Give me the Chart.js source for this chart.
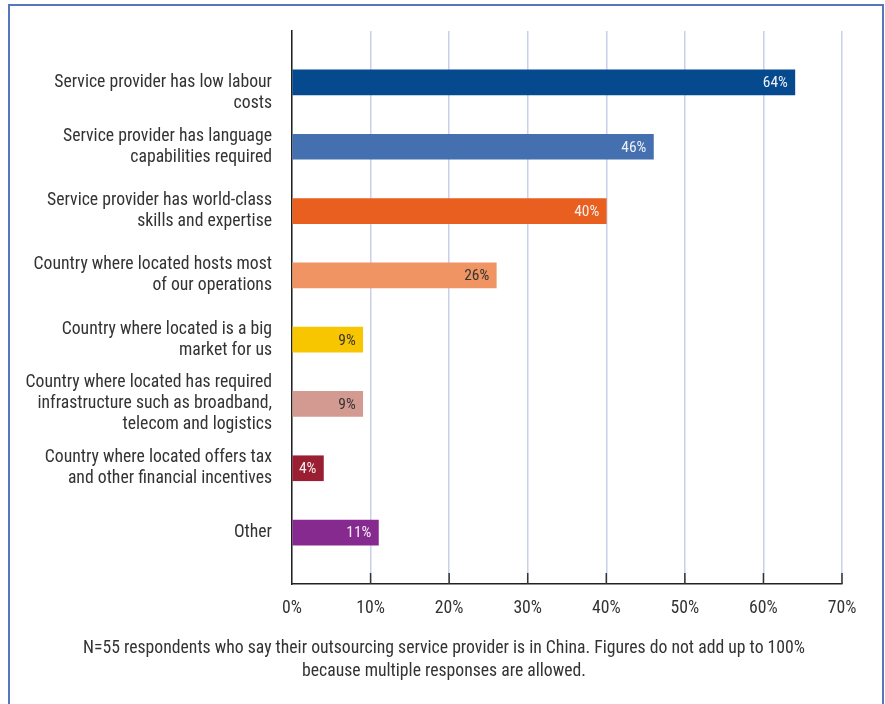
<!DOCTYPE html>
<html><head><meta charset="utf-8">
<script src="https://cdn.jsdelivr.net/npm/chart.js@4/dist/chart.umd.min.js"></script>
<style>
body{margin:0;background:#fff;}
#frame{position:absolute;left:8px;top:4px;width:876px;height:720px;border:2px solid #5677bb;border-bottom:none;box-sizing:border-box;}
#wrap{position:absolute;left:0;top:0;width:885px;height:704px;}
#note{position:absolute;left:0;width:888px;top:636px;text-align:center;font-family:'Liberation Sans Narrow','Roboto Condensed','DejaVu Sans Condensed',sans-serif;font-size:17.7px;color:#333;line-height:23px;}
</style></head>
<body>
<div id="frame"></div>
<div id="wrap"><canvas id="c" width="885" height="704"></canvas></div>
<div id="note">N=55 respondents who say their outsourcing service provider is in China. Figures do not add up to 100%<br>because multiple responses are allowed.</div>
<script>
const categories = [
  ["", "Service provider has low labour", "costs"],
  ["Service provider has language", "capabilities required"],
  ["Service provider has world-class", "skills and expertise"],
  ["Country where located hosts most", "of our operations"],
  ["Country where located is a big", "market for us"],
  ["Country where located has required", "infrastructure such as broadband,", "telecom and logistics"],
  ["Country where located offers tax", "and other financial incentives"],
  ["Other"]
];
const values = [64, 46, 40, 26, 9, 9, 4, 11];
const barColors = ["#05498f", "#4470b0", "#e85f20", "#f19463", "#f7c600", "#d39a92", "#9a1f32", "#862a8f"];
const valueLabelColors = ["#eef0f6", "#eef0f6", "#f6f0ec", "#333333", "#333333", "#333333", "#f6eef0", "#f3eef5"];
const xTicks = [0, 10, 20, 30, 40, 50, 60, 70];

const FONT = "'Liberation Sans Narrow','Roboto Condensed','DejaVu Sans Condensed',sans-serif";

const valueLabels = {
  id: 'valueLabels',
  afterDatasetsDraw(chart) {
    const ctx = chart.ctx;
    const meta = chart.getDatasetMeta(0);
    ctx.save();
    ctx.font = "15.5px " + FONT;
    ctx.textAlign = 'right';
    ctx.textBaseline = 'middle';
    meta.data.forEach((bar, i) => {
      ctx.fillStyle = valueLabelColors[i];
      ctx.fillText(values[i] + '%', bar.x - 7, bar.y + 1);
    });
    ctx.restore();
  }
};

const innerTicks = {
  id: 'innerTicks',
  afterDraw(chart) {
    const ctx = chart.ctx;
    const xs = chart.scales.x;
    const bottom = chart.chartArea.bottom;
    ctx.save();
    ctx.strokeStyle = '#333';
    ctx.lineWidth = 1.5;
    xTicks.forEach(v => {
      if (v === 0) return;
      const px = xs.getPixelForValue(v);
      ctx.beginPath();
      ctx.moveTo(px, bottom - 11);
      ctx.lineTo(px, bottom);
      ctx.stroke();
    });
    ctx.restore();
  }
};

new Chart(document.getElementById('c'), {
  type: 'bar',
  data: {
    datasets: [{
      data: values.map((v, i) => ({ x: v, y: i })),
      backgroundColor: barColors,
      barThickness: 25,
      borderWidth: 0
    }]
  },
  options: {
    responsive: false,
    animation: false,
    indexAxis: 'y',
    layout: { padding: { top: 31, right: 43, left: 0, bottom: 0 } },
    plugins: { legend: { display: false }, tooltip: { enabled: false } },
    scales: {
      x: {
        type: 'linear', min: 0, max: 70,
        afterBuildTicks(s) { s.ticks = xTicks.map(v => ({ value: v })); },
        ticks: { callback: v => v + '%', color: '#333', font: { family: FONT, size: 17.7 }, padding: 14 },
        grid: { color: '#c8d0ea', lineWidth: 1.5, drawTicks: false },
        border: { display: true, color: '#222', width: 1.5 },
        afterFit(s) { s.height = 120; }
      },
      y: {
        type: 'linear', reverse: true, min: -0.8, max: 7.8, offset: false,
        afterBuildTicks(s) { s.ticks = categories.map((c, i) => ({ value: i })); },
        ticks: { callback: v => categories[v], color: '#333', font: { family: FONT, size: 17.7, lineHeight: 1.18 }, padding: 20, autoSkip: false },
        grid: { display: false, drawTicks: false, offset: false },
        border: { display: true, color: '#222', width: 1.5 },
        afterFit(s) { s.width = 292; }
      }
    }
  },
  plugins: [valueLabels, innerTicks]
});
</script>
</body></html>
